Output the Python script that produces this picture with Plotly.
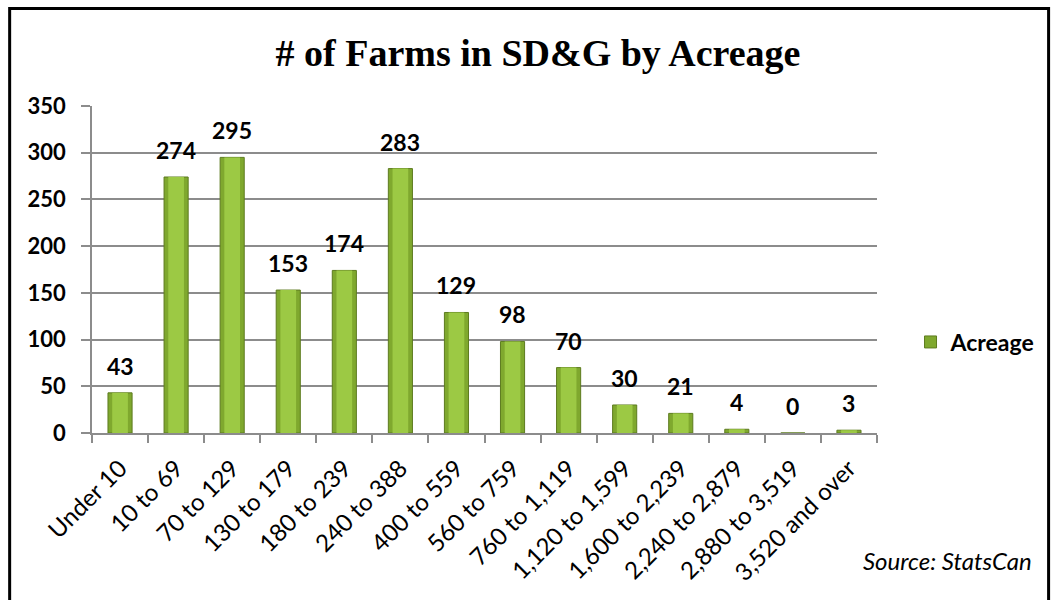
import plotly.graph_objects as go

# Farm counts by acreage class (SD&G, StatsCan)
categories = [
    "Under 10", "10 to 69", "70 to 129", "130 to 179", "180 to 239",
    "240 to 388", "400 to 559", "560 to 759", "760 to 1,119",
    "1,120 to 1,599", "1,600 to 2,239", "2,240 to 2,879",
    "2,880 to 3,519", "3,520 and over",
]
farms = [43, 274, 295, 153, 174, 283, 129, 98, 70, 30, 21, 4, 0, 3]
y_ticks = [0, 50, 100, 150, 200, 250, 300, 350]

SANS = "Lato, 'Open Sans', sans-serif"
GRID = "#8c8c8c"

fig = go.Figure()

# outer (darker) body of each bar
fig.add_trace(go.Bar(
    x=categories, y=farms, name="Acreage", width=0.43,
    marker=dict(color="#7fa82e", line=dict(color="#5d7b1f", width=1)),
    hoverinfo="x+y",
))
# lighter inner band giving the bars a rounded look
fig.add_trace(go.Bar(
    x=categories, y=farms, width=0.28, showlegend=False,
    marker=dict(color="#9cc944", line=dict(width=0)),
    hoverinfo="skip",
))

# value labels above the bars
for cat, val in zip(categories, farms):
    fig.add_annotation(
        x=cat, y=val, text=str(val), showarrow=False,
        yanchor="bottom", yshift=11,
        font=dict(family=SANS, size=23, color="black", weight="bold"),
    )

fig.add_annotation(
    text="<i>Source: StatsCan</i>", xref="paper", yref="paper",
    x=(1047 - 92) / 796, y=(433 - 560) / 327,
    xanchor="right", yanchor="middle", showarrow=False,
    font=dict(family=SANS, size=24, color="black"),
)

# outer frame of the chart
fig.add_shape(
    type="rect", xref="paper", yref="paper",
    x0=(8.5 - 92) / 796, x1=(1062 - 92) / 796,
    y0=(433 - 612) / 327, y1=(433 - 8.5) / 327,
    line=dict(color="black", width=3), layer="above",
)

fig.update_layout(
    width=1053, height=600,
    margin=dict(l=92, r=165, t=106, b=167),
    paper_bgcolor="white", plot_bgcolor="white",
    barmode="overlay",
    title=dict(
        text="<b># of Farms in SD&amp;G by Acreage</b>",
        x=538 / 1053, xanchor="center", xref="container",
        y=1 - 53 / 600, yanchor="middle", yref="container",
        font=dict(family="'Liberation Serif', 'Times New Roman', serif",
                  size=38, color="black"),
    ),
    legend=dict(
        x=(922 - 92) / 796, xanchor="left",
        y=(433 - 342) / 327, yanchor="middle",
        font=dict(family=SANS, size=23, color="black", weight="bold"),
        bgcolor="rgba(0,0,0,0)",
    ),
    showlegend=True,
)

fig.update_xaxes(
    type="category", tickangle=-45,
    tickfont=dict(family=SANS, size=24, color="black"),
    showline=True, linecolor=GRID, linewidth=1.5,
    ticks="outside", tickson="boundaries", ticklen=8,
    tickcolor=GRID, tickwidth=1.5, ticklabelstandoff=10,
    showgrid=False,
)
fig.update_yaxes(
    range=[0, 350], tickvals=y_ticks,
    tickfont=dict(family=SANS, size=22, color="black", weight="bold"),
    showline=True, linecolor=GRID, linewidth=1.5,
    ticks="outside", ticklen=9, tickcolor=GRID, tickwidth=1.5,
    ticklabelstandoff=11,
    showgrid=True, gridcolor=GRID, gridwidth=1.5,
    zeroline=False,
)

fig.write_html("out.html")
